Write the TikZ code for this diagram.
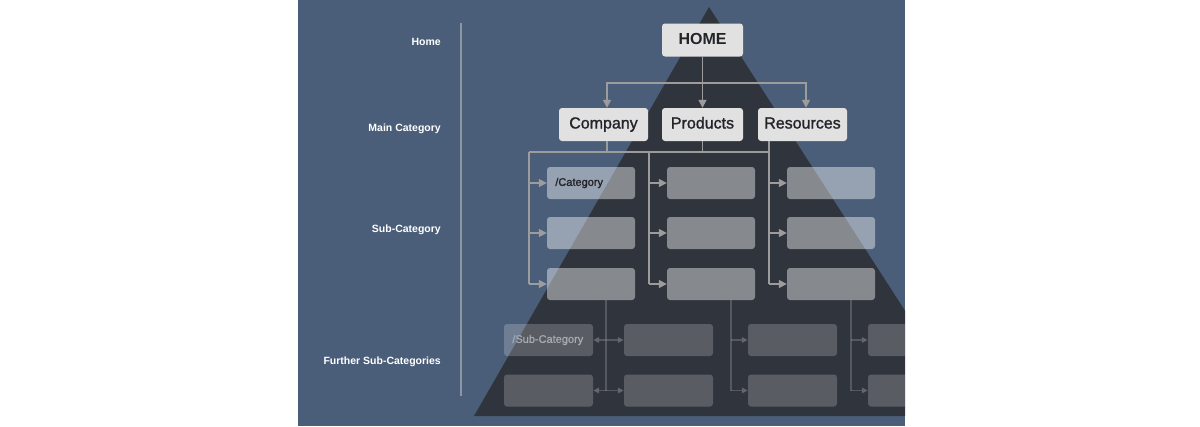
\documentclass[tikz,border=0pt]{standalone}
\usepackage{fontspec}
\setmainfont{Liberation Sans}
\newfontfamily\medfont{Liberation Sans}[FakeBold=1.3]
\usetikzlibrary{arrows.meta}

\definecolor{bgblue}{HTML}{4B5E79}
\definecolor{pyramid}{HTML}{30353D}
\definecolor{boxgray}{HTML}{E1E1E1}
\definecolor{linegray}{HTML}{9C9C9C}
\definecolor{divgray}{HTML}{8C95A2}
\definecolor{textdark}{HTML}{222428}
\definecolor{textdim}{HTML}{A5A9B0}

\begin{document}
\begin{tikzpicture}[x=1pt,y=-1pt,
	conn/.style={draw=linegray,line width=1.6pt},
	arr/.style={conn,-{Triangle[length=8pt,width=8pt]}},
	dim/.style={draw=linegray,opacity=0.35,line width=1.3pt},
	mainbox/.style={fill=boxgray,rounded corners=3pt,minimum height=33pt,inner sep=0pt,text height=11.5pt,text depth=3.5pt,font=\medfont\fontsize{16}{18}\selectfont,text=textdark},
	subbox/.style={fill=white,fill opacity=0.42,rounded corners=3pt,minimum width=88pt,minimum height=32pt},
	furbox/.style={fill=white,fill opacity=0.2,rounded corners=3pt,minimum width=89pt,minimum height=32pt},
	lbl/.style={anchor=east,inner xsep=0pt,text=white,font=\bfseries\fontsize{10.5}{12}\selectfont}]
	\useasboundingbox (0,0) rectangle (1200,426);
	\begin{scope}
	\clip (298,0) rectangle (905,426);
	\fill[bgblue] (298,0) rectangle (905,426);
	\fill[pyramid] (709,7) -- (474,416) -- (973,416) -- cycle;
	% levels on the left
	\node[lbl] (lhome) at (441,41.5) {Home};
	\node[lbl] (lmain) at (441,128.5) {Main Category};
	\node[lbl] (lsub) at (441,229.5) {Sub-Category};
	\node[lbl] (lfur) at (441,361.5) {Further Sub-Categories};
	\draw[divgray,line width=1.2pt] (461,23) -- (461,396);
	% home and main categories
	\node[mainbox,minimum width=81pt,font=\bfseries\fontsize{16}{18}\selectfont] (hm) at (702.5,40) {HOME};
	\node[mainbox,minimum width=89pt] (co) at (603.5,124.5) {Company};
	\node[mainbox,minimum width=81pt] (pr) at (702.5,124.5) {Products};
	\node[mainbox,minimum width=89pt] (re) at (802.5,124.5) {Resources};
	\draw[conn] (hm.south) -- ++(0,26) coordinate (hb);
	\draw[arr] (hb) -| ([xshift=3.5pt]co.north);
	\draw[arr] (hb) -- (pr.north);
	\draw[arr] (hb) -| ([xshift=3.5pt]re.north);
	% sub-categories
	\foreach \c/\x in {1/591,2/711,3/831}
		\foreach \r/\y in {1/183,2/233,3/284}
			\node[subbox] (s\c\r) at (\x,\y) {};
	\node[anchor=west,text=textdark,font=\medfont\fontsize{11}{13}\selectfont] (tcat) at ([xshift=5pt]s11.west) {/Category};
	\coordinate (k1) at (529,152);
	\coordinate (k2) at (649,152);
	\coordinate (k3) at (769,152);
	\draw[conn] ([xshift=3.5pt]co.south) -- ([xshift=3.5pt]co.south |- k1);
	\draw[conn] (pr.south) -- (pr.south |- k1);
	\draw[conn] (re.south -| k3) -- (k3);
	\draw[conn] (k1) -- (k3);
	\foreach \c in {1,2,3}{
		\draw[conn] (k\c) -- (k\c |- s\c3.west);
		\foreach \r in {1,2,3}
			\draw[arr] (k\c |- s\c\r.west) -- (s\c\r.west);
	}
	% further sub-categories
	\node[furbox] (f1a) at (548.5,340) {};
	\node[furbox] (f1b) at (548.5,390.5) {};
	\node[anchor=west,text=textdim,font=\medfont\fontsize{11}{13}\selectfont] (tsub) at ([xshift=5pt]f1a.west) {/Sub-Category};
	\foreach \c/\x in {2/668.5,3/792.5,4/912.5}{
		\node[furbox] (f\c a) at (\x,340) {};
		\node[furbox] (f\c b) at (\x,390.5) {};
	}
	\coordinate (v1) at ([xshift=15pt]s13.south);
	\draw[dim] (v1) -- (v1 |- f1b.east);
	\draw[dim,{Triangle[length=6pt,width=6pt]}-{Triangle[length=6pt,width=6pt]}] (f1a.east) -- (f2a.west);
	\draw[dim,{Triangle[length=6pt,width=6pt]}-{Triangle[length=6pt,width=6pt]}] (f1b.east) -- (f2b.west);
	\coordinate (v2) at ([xshift=20pt]s23.south);
	\coordinate (v3) at ([xshift=20pt]s33.south);
	\foreach \v/\n in {v2/3,v3/4}{
		\draw[dim] (\v) -- (\v |- f\n b.west);
		\draw[dim,-{Triangle[length=6pt,width=6pt]}] (\v |- f\n a.west) -- (f\n a.west);
		\draw[dim,-{Triangle[length=6pt,width=6pt]}] (\v |- f\n b.west) -- (f\n b.west);
	}
	\end{scope}
\end{tikzpicture}
\end{document}
